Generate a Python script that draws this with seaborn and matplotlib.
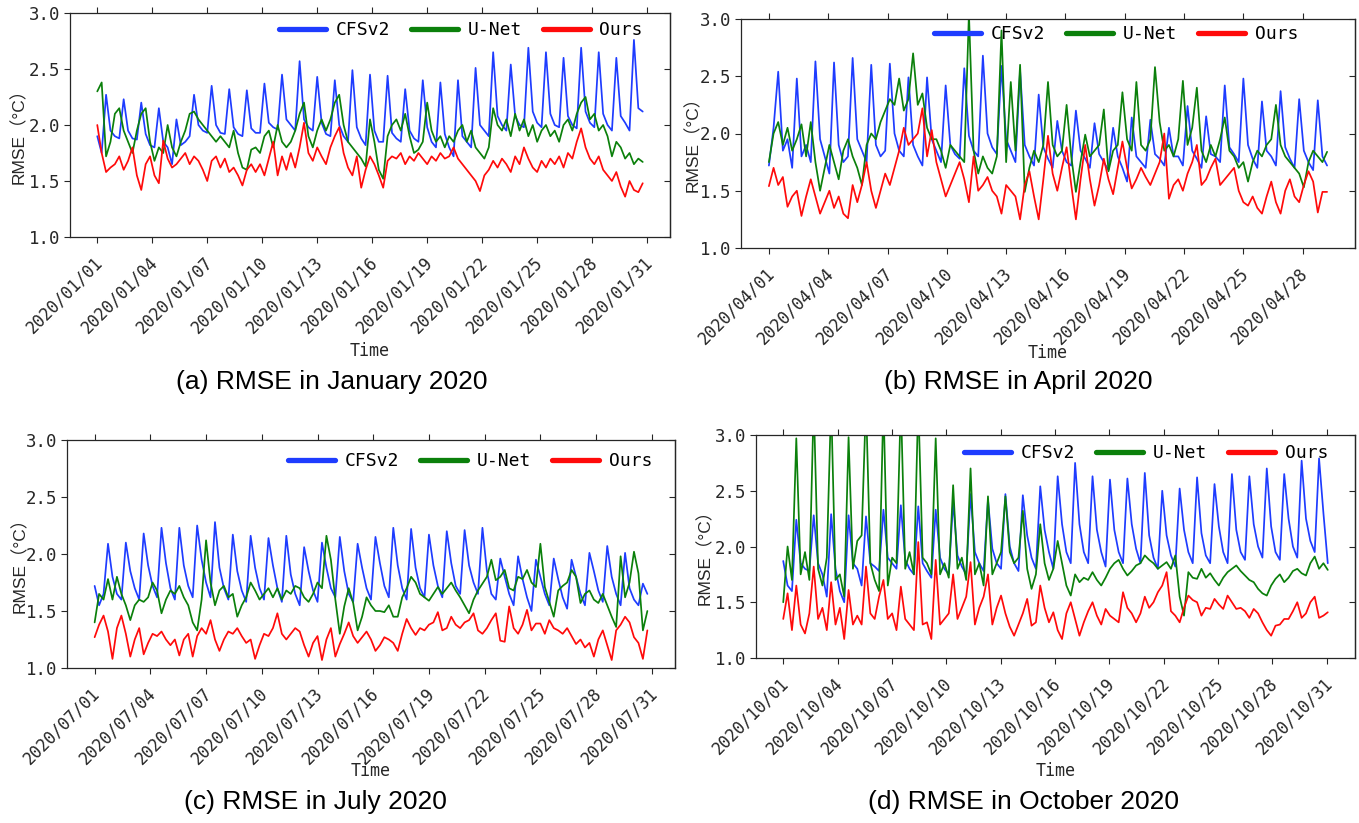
import numpy as np
import pandas as pd
import matplotlib
matplotlib.use("Agg")
import matplotlib.pyplot as plt
import matplotlib.dates as mdates
from matplotlib.ticker import FormatStrFormatter
from matplotlib.transforms import ScaledTranslation
import seaborn as sns

# ---------------- data ----------------
series_names = ["CFSv2", "U-Net", "Ours"]
series_colors = ["#1e3cff", "#0b800b", "#ff0a0a"]

jan_start = "2020-01-01"
jan_step_hours = 5.76
jan_cfsv2 = [
    1.90, 1.75, 2.27, 1.95, 1.90, 1.88, 2.23, 1.95, 1.88, 1.87, 2.20, 1.92,
    1.82, 1.80, 2.15, 1.85, 1.80, 1.65, 2.05, 1.82, 1.85, 1.90, 2.27, 2.00,
    1.95, 1.93, 2.35, 2.00, 1.93, 1.92, 2.32, 1.98, 1.92, 1.90, 2.31, 1.97,
    1.93, 1.93, 2.37, 2.02, 1.98, 1.96, 2.45, 2.05, 2.00, 1.95, 2.57, 2.05,
    1.98, 1.95, 2.43, 2.02, 1.92, 1.90, 2.40, 2.00, 1.90, 1.85, 2.49, 1.98,
    1.88, 1.82, 2.45, 1.95, 1.85, 1.85, 2.44, 1.93, 1.88, 1.85, 2.32, 1.95,
    1.88, 1.85, 2.40, 1.98, 1.85, 1.80, 2.38, 1.92, 1.80, 1.72, 2.40, 1.90,
    1.85, 1.80, 2.51, 2.00, 1.95, 1.90, 2.65, 2.08, 2.00, 1.95, 2.54, 2.08,
    2.00, 1.98, 2.69, 2.12, 2.02, 1.98, 2.65, 2.10, 2.00, 1.98, 2.60, 2.08,
    2.00, 1.97, 2.69, 2.12, 2.02, 1.98, 2.65, 2.10, 2.00, 1.95, 2.60, 2.08,
    2.02, 1.95, 2.76, 2.15, 2.12,
]
jan_unet = [
    2.30, 2.38, 1.72, 1.85, 2.10, 2.15, 1.95, 1.85, 1.75, 1.95, 2.10, 2.15,
    1.85, 1.68, 1.80, 1.75, 2.00, 1.80, 1.72, 1.85, 1.95, 2.10, 2.12, 2.05,
    2.00, 1.95, 1.90, 1.85, 1.90, 1.85, 1.80, 1.95, 1.75, 1.62, 1.60, 1.78,
    1.80, 1.75, 1.90, 1.95, 1.80, 2.00, 1.85, 1.80, 1.85, 1.95, 2.10, 2.20,
    1.90, 1.80, 1.95, 2.05, 1.95, 2.05, 2.20, 2.27, 2.00, 1.85, 1.80, 1.75,
    1.70, 1.63, 2.05, 1.85, 1.60, 1.52, 1.90, 2.00, 2.05, 1.95, 2.10, 1.90,
    1.75, 1.78, 1.85, 2.20, 1.95, 1.85, 1.90, 1.80, 1.90, 1.85, 1.95, 2.00,
    1.85, 1.95, 1.80, 1.75, 1.70, 1.80, 2.15, 2.00, 1.95, 2.05, 1.90, 2.10,
    1.95, 2.05, 1.90, 2.00, 1.85, 1.95, 2.00, 1.90, 1.95, 1.85, 2.00, 2.05,
    1.95, 2.10, 2.20, 2.25, 2.05, 2.10, 1.95, 2.00, 1.90, 1.72, 1.85, 1.80,
    1.70, 1.75, 1.65, 1.70, 1.67,
]
jan_ours = [
    2.00, 1.75, 1.58, 1.62, 1.65, 1.72, 1.60, 1.68, 1.80, 1.55, 1.42, 1.65,
    1.72, 1.55, 1.48, 1.86, 1.70, 1.62, 1.65, 1.70, 1.75, 1.65, 1.72, 1.68,
    1.60, 1.50, 1.68, 1.72, 1.62, 1.70, 1.58, 1.62, 1.55, 1.46, 1.60, 1.65,
    1.58, 1.65, 1.55, 1.70, 1.85, 1.55, 1.72, 1.60, 1.75, 1.62, 1.80, 2.02,
    1.75, 1.68, 1.80, 1.72, 1.65, 1.80, 1.90, 1.98, 1.75, 1.62, 1.55, 1.72,
    1.44, 1.60, 1.72, 1.65, 1.55, 1.44, 1.68, 1.72, 1.70, 1.75, 1.65, 1.72,
    1.68, 1.75, 1.70, 1.65, 1.72, 1.68, 1.75, 1.70, 1.72, 1.80, 1.70, 1.65,
    1.60, 1.55, 1.50, 1.41, 1.55, 1.60, 1.68, 1.62, 1.70, 1.65, 1.58, 1.72,
    1.65, 1.80, 1.70, 1.62, 1.58, 1.68, 1.62, 1.70, 1.65, 1.72, 1.62, 1.75,
    1.70, 1.85, 1.97, 1.80, 1.70, 1.65, 1.72, 1.60, 1.55, 1.50, 1.58, 1.45,
    1.36, 1.50, 1.42, 1.40, 1.48,
]

apr_start = "2020-04-01"
apr_step_hours = 5.647
apr_cfsv2 = [
    1.72, 2.05, 2.54, 1.85, 1.95, 1.70, 2.48, 1.80, 1.90, 1.75, 2.63, 1.95,
    1.80, 1.65, 2.62, 1.90, 1.75, 1.80, 2.66, 1.95, 1.85, 1.75, 2.60, 1.90,
    1.80, 1.85, 2.61, 2.00, 1.85, 1.80, 2.49, 1.90, 1.80, 1.72, 2.49, 1.95,
    1.85, 1.75, 2.42, 1.90, 1.82, 1.78, 2.57, 1.98, 1.85, 1.80, 2.68, 2.00,
    1.88, 1.82, 2.59, 1.95, 1.85, 1.75, 2.55, 1.90, 1.80, 1.72, 2.34, 1.88,
    1.78, 1.70, 2.11, 1.85, 1.75, 1.72, 2.20, 1.85, 1.78, 1.70, 2.09, 1.82,
    1.75, 1.68, 2.05, 1.80, 1.70, 1.58, 2.14, 1.80, 1.75, 1.70, 2.12, 1.82,
    1.78, 1.72, 2.05, 1.80, 1.80, 1.72, 2.24, 1.85, 1.78, 1.70, 2.15, 1.82,
    1.80, 1.75, 2.42, 1.88, 1.82, 1.75, 2.48, 1.90, 1.78, 1.70, 2.28, 1.85,
    1.80, 1.72, 2.37, 1.88, 1.78, 1.70, 2.30, 1.85, 1.75, 1.68, 2.29, 1.80,
    1.72,
]
apr_unet = [
    1.75, 2.00, 2.10, 1.90, 2.05, 1.85, 1.95, 2.08, 1.80, 2.10, 1.75, 1.50,
    1.70, 1.90, 1.75, 1.60, 1.85, 1.95, 1.80, 1.70, 1.55, 1.90, 2.00, 1.95,
    2.10, 2.20, 2.30, 2.25, 2.48, 2.20, 2.30, 2.70, 2.25, 2.35, 2.05, 1.95,
    1.95, 1.85, 1.70, 1.90, 1.85, 1.80, 1.75, 3.05, 1.85, 1.65, 1.80, 1.70,
    1.65, 1.80, 2.90, 1.75, 2.45, 1.85, 2.60, 1.49, 1.70, 1.85, 1.75, 1.90,
    2.45, 1.90, 1.80, 1.85, 2.25, 1.80, 1.49, 1.75, 1.99, 1.80, 1.85, 1.90,
    2.21, 1.67, 1.85, 1.90, 2.36, 1.95, 1.85, 2.45, 1.90, 1.85, 1.95, 2.58,
    2.10, 1.85, 1.90, 1.80, 1.95, 2.46, 1.90, 2.05, 2.40, 1.85, 1.75, 1.90,
    1.80, 1.95, 2.14, 1.85, 1.80, 1.70, 1.75, 1.58, 1.75, 1.85, 1.80, 1.90,
    1.95, 2.25, 1.90, 1.80, 1.75, 1.70, 1.65, 1.53, 1.75, 1.85, 1.80, 1.75,
    1.84,
]
apr_ours = [
    1.54, 1.70, 1.55, 1.62, 1.36, 1.45, 1.50, 1.28, 1.45, 1.60, 1.45, 1.30,
    1.40, 1.50, 1.35, 1.45, 1.30, 1.26, 1.55, 1.40, 1.55, 1.75, 1.50, 1.35,
    1.50, 1.65, 1.55, 1.70, 1.85, 2.05, 1.90, 1.95, 2.00, 2.22, 1.80, 2.03,
    1.75, 1.60, 1.45, 1.55, 1.65, 1.75, 1.60, 1.40, 1.80, 1.50, 1.55, 1.62,
    1.50, 1.45, 1.30, 1.55, 1.50, 1.45, 1.25, 1.55, 1.67, 1.45, 1.25, 1.60,
    1.98, 1.65, 1.50, 1.70, 1.88, 1.55, 1.25, 1.60, 1.90, 1.60, 1.37, 1.55,
    1.78, 1.60, 1.47, 1.70, 1.93, 1.70, 1.52, 1.60, 1.70, 1.62, 1.55, 1.65,
    1.75, 2.00, 1.43, 1.55, 1.60, 1.50, 1.65, 1.75, 1.90, 1.55, 1.60, 1.70,
    1.78, 1.55, 1.60, 1.65, 1.70, 1.50, 1.40, 1.37, 1.45, 1.35, 1.30, 1.45,
    1.58, 1.40, 1.30, 1.50, 1.60, 1.45, 1.40, 1.55, 1.67, 1.58, 1.31, 1.49,
    1.49,
]

jul_start = "2020-07-01"
jul_step_hours = 5.76
jul_cfsv2 = [
    1.72, 1.55, 1.65, 2.09, 1.80, 1.65, 1.60, 2.10, 1.85, 1.70, 1.60, 2.18,
    1.90, 1.72, 1.62, 2.23, 1.92, 1.70, 1.60, 2.23, 1.90, 1.72, 1.62, 2.25,
    1.95, 1.75, 1.62, 2.28, 1.88, 1.70, 1.60, 2.17, 1.85, 1.68, 1.58, 2.16,
    1.88, 1.70, 1.60, 2.14, 1.90, 1.70, 1.58, 2.16, 1.82, 1.65, 1.55, 2.06,
    1.85, 1.68, 1.58, 2.10, 1.88, 1.70, 1.62, 2.15, 1.85, 1.65, 1.58, 2.09,
    1.88, 1.70, 1.60, 2.15, 1.92, 1.72, 1.62, 2.23, 1.90, 1.70, 1.60, 2.22,
    1.88, 1.70, 1.62, 2.17, 1.90, 1.72, 1.62, 2.20, 1.92, 1.72, 1.65, 2.21,
    1.90, 1.75, 1.65, 2.23, 1.85, 1.65, 1.60, 1.96, 1.80, 1.65, 1.55, 1.98,
    1.78, 1.62, 1.50, 1.95, 1.80, 1.65, 1.55, 1.96, 1.78, 1.62, 1.52, 1.95,
    1.80, 1.65, 1.55, 2.01, 1.85, 1.68, 1.58, 2.07, 1.80, 1.65, 1.55, 2.01,
    1.70, 1.60, 1.55, 1.74, 1.65,
]
jul_unet = [
    1.40, 1.65, 1.60, 1.78, 1.60, 1.80, 1.65, 1.55, 1.42, 1.55, 1.60, 1.58,
    1.62, 1.75, 1.68, 1.48, 1.60, 1.68, 1.65, 1.72, 1.62, 1.55, 1.40, 1.33,
    1.60, 2.12, 1.75, 1.55, 1.68, 1.72, 1.62, 1.65, 1.45, 1.55, 1.62, 1.75,
    1.68, 1.60, 1.65, 1.70, 1.62, 1.70, 1.60, 1.68, 1.65, 1.72, 1.70, 1.62,
    1.58, 1.65, 1.75, 1.70, 2.16, 1.95, 1.60, 1.30, 1.54, 1.70, 1.57, 1.33,
    1.45, 1.62, 1.55, 1.50, 1.50, 1.49, 1.55, 1.45, 1.45, 1.62, 1.70, 1.80,
    1.75, 1.65, 1.62, 1.59, 1.65, 1.71, 1.65, 1.70, 1.75, 1.68, 1.62, 1.55,
    1.48, 1.60, 1.68, 1.74, 1.80, 1.95, 1.77, 1.80, 1.86, 1.70, 1.68, 1.80,
    1.78, 1.86, 1.75, 1.71, 2.09, 1.71, 1.58, 1.45, 1.68, 1.72, 1.75, 1.86,
    1.80, 1.57, 1.65, 1.68, 1.60, 1.57, 1.65, 1.55, 1.45, 1.36, 1.98, 1.62,
    1.75, 2.02, 1.83, 1.33, 1.50,
]
jul_ours = [
    1.27, 1.38, 1.46, 1.32, 1.08, 1.35, 1.46, 1.30, 1.10, 1.25, 1.35, 1.12,
    1.22, 1.30, 1.28, 1.32, 1.25, 1.20, 1.25, 1.11, 1.25, 1.30, 1.10, 1.28,
    1.35, 1.30, 1.42, 1.25, 1.15, 1.25, 1.32, 1.30, 1.35, 1.28, 1.22, 1.25,
    1.08, 1.20, 1.30, 1.28, 1.35, 1.48, 1.30, 1.25, 1.30, 1.35, 1.32, 1.20,
    1.10, 1.22, 1.28, 1.07, 1.25, 1.35, 1.10, 1.21, 1.30, 1.40, 1.28, 1.22,
    1.27, 1.32, 1.25, 1.15, 1.20, 1.27, 1.25, 1.22, 1.15, 1.30, 1.43, 1.35,
    1.29, 1.35, 1.33, 1.38, 1.40, 1.49, 1.33, 1.35, 1.45, 1.38, 1.35, 1.40,
    1.42, 1.48, 1.33, 1.30, 1.35, 1.42, 1.48, 1.24, 1.23, 1.54, 1.35, 1.30,
    1.38, 1.51, 1.33, 1.39, 1.39, 1.30, 1.42, 1.35, 1.33, 1.30, 1.35, 1.28,
    1.21, 1.25, 1.18, 1.22, 1.10, 1.25, 1.33, 1.20, 1.07, 1.33, 1.38, 1.45,
    1.40, 1.27, 1.22, 1.08, 1.33,
]

oct_start = "2020-10-01"
oct_step_hours = 5.77
oct_cfsv2 = [
    1.87, 1.65, 1.60, 2.24, 1.85, 1.80, 1.78, 2.28, 1.85, 1.75, 1.55, 2.29,
    1.80, 1.60, 1.50, 2.28, 1.85, 1.80, 1.65, 2.27, 1.85, 1.82, 1.78, 2.33,
    1.90, 1.85, 1.80, 2.37, 1.88, 1.80, 1.75, 2.36, 1.85, 1.78, 1.72, 2.33,
    1.90, 1.80, 1.75, 2.40, 1.92, 1.82, 1.75, 2.47, 1.95, 1.85, 1.78, 2.42,
    1.98, 1.85, 1.80, 2.47, 2.00, 1.85, 1.78, 2.46, 2.10, 1.90, 1.80, 2.54,
    2.15, 1.95, 1.80, 2.63, 2.20, 1.95, 1.85, 2.75, 2.20, 1.95, 1.85, 2.63,
    2.15, 1.95, 1.82, 2.60, 2.15, 1.95, 1.85, 2.61, 2.20, 1.98, 1.85, 2.66,
    2.10, 1.90, 1.80, 2.50, 2.10, 1.92, 1.82, 2.52, 2.15, 1.95, 1.85, 2.62,
    2.12, 1.92, 1.85, 2.56, 2.18, 1.95, 1.85, 2.65, 2.15, 1.95, 1.88, 2.63,
    2.20, 2.00, 1.90, 2.70, 2.18, 1.95, 1.88, 2.65, 2.25, 2.00, 1.90, 2.77,
    2.25, 2.05, 1.95, 2.79, 2.30, 1.85,
]
oct_unet = [
    1.50, 2.00, 1.70, 2.97, 1.75, 1.95, 1.70, 3.30, 1.80, 1.65, 1.90, 3.30,
    1.70, 1.75, 1.55, 2.98, 1.80, 2.05, 2.10, 3.30, 1.85, 1.70, 1.60, 3.30,
    1.65, 1.90, 1.85, 3.30, 1.80, 1.95, 1.75, 3.30, 1.90, 1.85, 1.75, 2.97,
    1.75, 1.85, 1.72, 2.55, 1.80, 1.90, 1.70, 2.70, 1.75, 1.85, 1.65, 2.45,
    1.75, 1.85, 1.95, 2.45, 1.95, 1.85, 1.90, 2.32, 1.80, 1.62, 1.75, 2.20,
    1.85, 1.70, 1.80, 2.05, 1.85, 1.65, 1.56, 1.75, 1.68, 1.72, 1.70, 1.77,
    1.70, 1.65, 1.72, 1.80, 1.85, 1.88, 1.80, 1.74, 1.78, 1.83, 1.85, 1.92,
    1.88, 1.85, 1.80, 1.83, 1.86, 1.80, 1.92, 1.55, 1.38, 1.77, 1.72, 1.71,
    1.80, 1.72, 1.76, 1.70, 1.65, 1.72, 1.77, 1.80, 1.83, 1.78, 1.74, 1.70,
    1.68, 1.62, 1.58, 1.56, 1.65, 1.71, 1.75, 1.68, 1.72, 1.78, 1.80, 1.76,
    1.74, 1.85, 1.91, 1.80, 1.85, 1.79,
]
oct_ours = [
    1.35, 1.58, 1.25, 1.65, 1.30, 1.22, 1.40, 1.82, 1.35, 1.45, 1.25, 1.68,
    1.30, 1.45, 1.17, 1.61, 1.30, 1.38, 1.30, 1.82, 1.40, 1.35, 1.55, 1.70,
    1.35, 1.40, 1.25, 1.64, 1.35, 1.30, 1.25, 2.04, 1.30, 1.32, 1.17, 1.88,
    1.30, 1.35, 1.40, 1.75, 1.35, 1.45, 1.55, 1.86, 1.30, 1.45, 1.55, 1.75,
    1.30, 1.45, 1.56, 1.40, 1.28, 1.20, 1.30, 1.40, 1.53, 1.29, 1.32, 1.65,
    1.45, 1.32, 1.41, 1.25, 1.17, 1.40, 1.50, 1.35, 1.20, 1.32, 1.42, 1.50,
    1.38, 1.30, 1.44, 1.38, 1.35, 1.32, 1.59, 1.45, 1.40, 1.32, 1.40, 1.55,
    1.45, 1.50, 1.59, 1.65, 1.77, 1.42, 1.38, 1.32, 1.45, 1.56, 1.52, 1.50,
    1.38, 1.45, 1.44, 1.53, 1.48, 1.44, 1.56, 1.50, 1.44, 1.45, 1.42, 1.36,
    1.44, 1.40, 1.32, 1.25, 1.20, 1.29, 1.30, 1.35, 1.35, 1.42, 1.50, 1.36,
    1.40, 1.50, 1.55, 1.36, 1.38, 1.41,
]

x_tick_every_days = 3
y_ticks = [1.0, 1.5, 2.0, 2.5, 3.0]

# ---------------- style ----------------
sns.set_theme(style="ticks")
plt.rcParams["font.family"] = ["DejaVu Sans Mono", "Noto Sans CJK SC"]
plt.rcParams["axes.edgecolor"] = "#262626"
plt.rcParams["axes.linewidth"] = 0.9
plt.rcParams["xtick.color"] = "#262626"
plt.rcParams["ytick.color"] = "#262626"
plt.rcParams["text.color"] = "black"

W, H = 1359, 823
fig = plt.figure(figsize=(W / 100, H / 100), dpi=100)


def rect(l, t, r, b):
    return [l / W, 1 - b / H, (r - l) / W, (b - t) / H]


panels = [
    dict(start=jan_start, step=jan_step_hours, data=(jan_cfsv2, jan_unet, jan_ours),
         box=(70, 13, 670, 237), caption="(a) RMSE in January 2020",
         cap=(332, 382), time_y=351, ylab_x=18.5, leg=(27, 8)),
    dict(start=apr_start, step=apr_step_hours, data=(apr_cfsv2, apr_unet, apr_ours),
         box=(741, 19, 1355, 248), caption="(b) RMSE in April 2020",
         cap=(1018, 382), time_y=353, ylab_x=692.5, leg=(57, 6)),
    dict(start=jul_start, step=jul_step_hours, data=(jul_cfsv2, jul_unet, jul_ours),
         box=(67, 440, 675, 668), caption="(c) RMSE in July 2020",
         cap=(315, 802), time_y=771, ylab_x=19.5, leg=(23, 12)),
    dict(start=oct_start, step=oct_step_hours, data=(oct_cfsv2, oct_unet, oct_ours),
         box=(756, 435, 1355, 658), caption="(d) RMSE in October 2020",
         cap=(1024, 802), time_y=771, ylab_x=704.5, leg=(27, 9)),
]

for p in panels:
    l, t, r, b = p["box"]
    w, h = r - l, b - t
    ax = fig.add_axes(rect(l, t, r, b))
    frames = []
    for name, vals in zip(series_names, p["data"]):
        times = pd.date_range(p["start"], periods=len(vals),
                              freq=pd.Timedelta(hours=p["step"]))
        frames.append(pd.DataFrame({"Time": times, "RMSE": vals, "Model": name}))
    df = pd.concat(frames, ignore_index=True)
    sns.lineplot(data=df, x="Time", y="RMSE", hue="Model", hue_order=series_names,
                 palette=series_colors, linewidth=1.25, estimator=None,
                 legend=False, ax=ax)

    month_start = pd.Timestamp(p["start"])
    tick_dates = pd.date_range(month_start, periods=11,
                               freq=pd.Timedelta(days=x_tick_every_days))
    tick_dates = [d for d in tick_dates if d.month == month_start.month]
    ax.set_xticks(tick_dates)
    ax.xaxis.set_major_formatter(mdates.DateFormatter("%Y/%m/%d"))
    ax.set_ylim(1.0, 3.0)
    ax.set_yticks(y_ticks)
    ax.yaxis.set_major_formatter(FormatStrFormatter("%.1f"))
    ax.tick_params(axis="x", which="major", bottom=True, top=True, direction="out",
                   length=4, width=0.8, labelsize=12, pad=8)
    ax.tick_params(axis="y", which="major", left=True, right=False, direction="out",
                   length=4, width=0.8, labelsize=12.5, pad=3)
    ax.minorticks_off()
    sec = ax.secondary_yaxis("right")
    sec.set_yticks(y_ticks)
    sec.tick_params(direction="in", length=4, width=0.8, labelright=False)

    off = ScaledTranslation(9 / 100, 0, fig.dpi_scale_trans)
    for lab in ax.get_xticklabels():
        lab.set_rotation(45)
        lab.set_ha("right")
        lab.set_transform(lab.get_transform() + off)

    ax.set_xlabel("Time", fontsize=12)
    ax.xaxis.set_label_coords(0.5, -(p["time_y"] - b) / h)
    ax.xaxis.label.set_va("center")
    ax.set_ylabel("RMSE（°C）", fontsize=12.5,
                  family=["Liberation Sans", "Noto Sans CJK SC"])
    ax.yaxis.set_label_coords(-(l - p["ylab_x"]) / w, 0.47)
    ax.yaxis.label.set_va("center")

    handles = ax.get_lines()[:3]
    dx, dy = p["leg"]
    leg = ax.legend(handles, series_names, ncol=3, loc="upper right",
                    bbox_to_anchor=(1 - dx / w, 1 - dy / h), frameon=False,
                    fontsize=13, handlelength=2.6, handletextpad=0.55,
                    columnspacing=1.15, borderpad=0, borderaxespad=0)
    for ln in leg.get_lines():
        ln.set_linewidth(3.8)

    fig.text(p["cap"][0] / W, 1 - p["cap"][1] / H, p["caption"], ha="center",
             va="center", fontsize=19, family="Liberation Sans")

fig.savefig("out.png", dpi=100)
